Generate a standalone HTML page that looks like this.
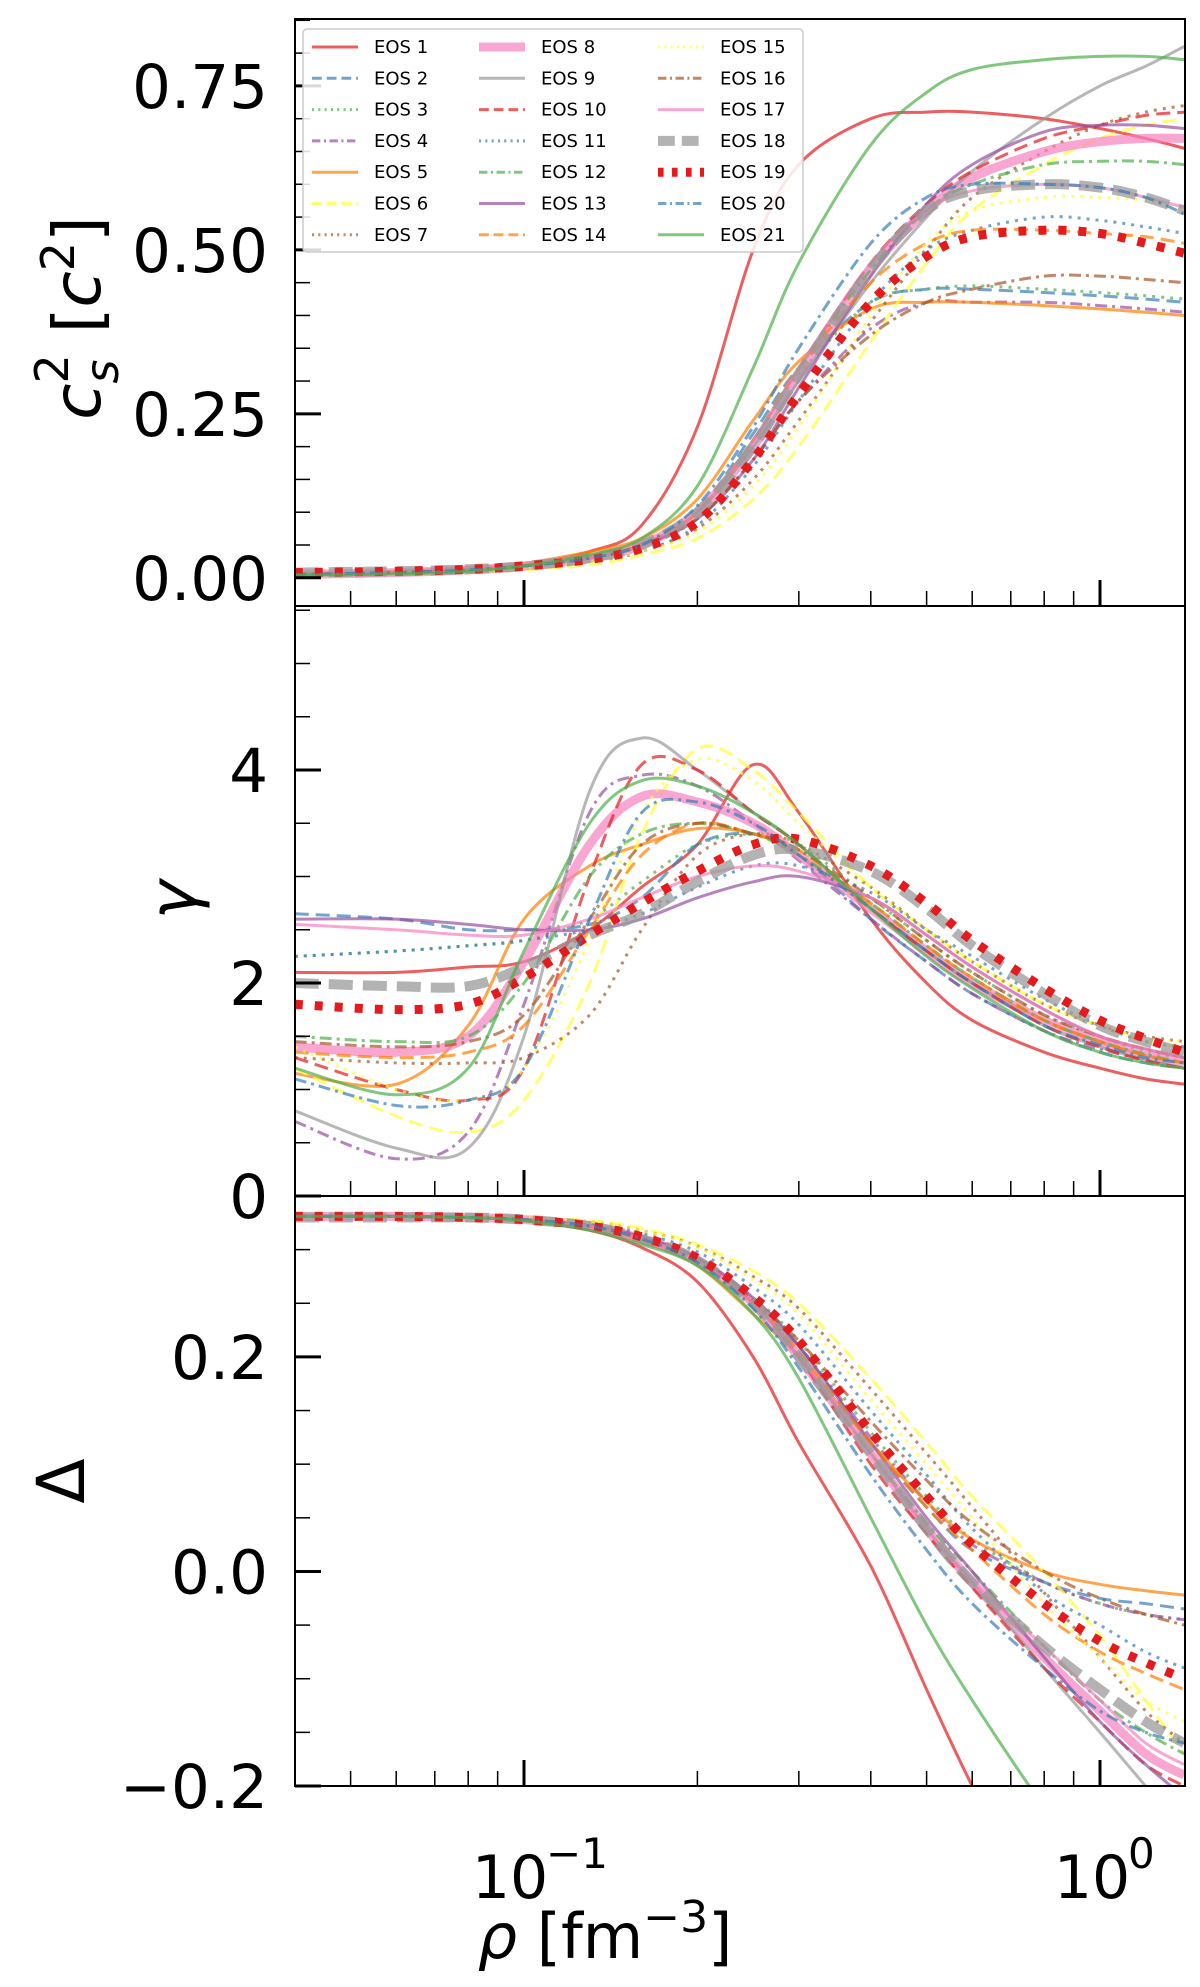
<!DOCTYPE html>
<html><head><meta charset="utf-8"><style>
html,body{margin:0;padding:0;background:#fff;overflow:hidden}
svg{display:block;font-family:"DejaVu Sans","Liberation Sans",sans-serif}
</style></head><body>
<svg id="chart" width="1200" height="1987" viewBox="0 0 1200 1987"></svg>
<script>
const rho=[0.04,0.06,0.08,0.1,0.13,0.16,0.2,0.25,0.3,0.4,0.5,0.6,0.8,1.0,1.2,1.4];
const eosLabels=["EOS 1","EOS 2","EOS 3","EOS 4","EOS 5","EOS 6","EOS 7","EOS 8","EOS 9","EOS 10","EOS 11","EOS 12","EOS 13","EOS 14","EOS 15","EOS 16","EOS 17","EOS 18","EOS 19","EOS 20","EOS 21"];
const cs2=[
[.005,.008,.012,.02,.04,.08,.23,.5,.63,.70,.71,.71,.70,.685,.67,.655],
[.005,.008,.012,.018,.03,.05,.1,.22,.32,.42,.44,.44,.435,.43,.425,.42],
[.005,.008,.012,.018,.03,.05,.1,.21,.31,.42,.44,.445,.44,.435,.43,.425],
[.006,.01,.015,.02,.03,.05,.09,.18,.27,.38,.42,.42,.42,.415,.41,.405],
[.006,.01,.015,.022,.04,.06,.12,.24,.33,.41,.42,.42,.415,.41,.405,.40],
[.004,.006,.008,.012,.02,.035,.06,.12,.2,.36,.48,.56,.63,.67,.69,.70],
[.004,.006,.009,.014,.025,.04,.075,.15,.24,.39,.5,.58,.65,.69,.71,.72],
[.005,.008,.012,.018,.03,.05,.1,.2,.31,.47,.56,.61,.65,.665,.67,.67],
[.005,.008,.012,.018,.03,.05,.1,.2,.3,.45,.55,.62,.7,.75,.78,.81],
[.005,.008,.012,.018,.03,.05,.1,.21,.32,.48,.57,.62,.67,.69,.705,.71],
[.005,.007,.01,.015,.025,.04,.08,.17,.27,.42,.5,.53,.55,.545,.535,.525],
[.005,.008,.012,.018,.03,.05,.1,.21,.32,.47,.56,.6,.63,.635,.635,.63],
[.005,.008,.012,.018,.03,.05,.09,.18,.29,.46,.57,.63,.68,.69,.69,.685],
[.005,.008,.012,.018,.03,.05,.1,.21,.32,.45,.51,.53,.53,.525,.52,.51],
[.004,.006,.009,.014,.025,.04,.07,.14,.23,.4,.51,.56,.58,.58,.575,.56],
[.005,.008,.012,.018,.03,.05,.09,.18,.27,.37,.42,.44,.46,.46,.455,.45],
[.005,.008,.012,.018,.03,.05,.1,.21,.32,.48,.56,.59,.6,.595,.58,.565],
[.008,.01,.013,.018,.03,.05,.1,.2,.31,.47,.56,.59,.6,.595,.58,.56],
[.008,.01,.013,.018,.028,.045,.085,.18,.28,.42,.49,.52,.53,.525,.51,.495],
[.005,.008,.012,.018,.03,.05,.11,.23,.35,.51,.58,.6,.6,.595,.58,.555],
[.004,.006,.01,.018,.035,.06,.14,.32,.48,.66,.74,.775,.79,.795,.795,.79]];
const gamma=[
[2.1,2.1,2.15,2.2,2.5,2.9,3.3,4.05,3.6,2.6,2.0,1.65,1.35,1.2,1.1,1.05],
[2.65,2.6,2.5,2.5,2.55,2.8,3.3,3.4,3.2,2.6,2.2,1.9,1.55,1.35,1.25,1.2],
[2.25,2.3,2.35,2.4,2.6,2.95,3.3,3.4,3.3,2.8,2.4,2.1,1.7,1.5,1.35,1.3],
[0.7,0.35,0.6,1.8,3.6,3.95,3.85,3.5,3.15,2.6,2.2,1.9,1.55,1.38,1.28,1.2],
[1.15,1.05,1.6,2.6,3.1,3.3,3.45,3.4,3.2,2.7,2.3,2.0,1.65,1.45,1.32,1.25],
[1.2,0.75,0.6,0.9,2.0,3.4,4.2,4.0,3.6,2.9,2.5,2.2,1.8,1.6,1.45,1.4],
[1.3,1.25,1.25,1.3,1.7,2.5,3.2,3.4,3.3,2.9,2.5,2.2,1.8,1.6,1.5,1.45],
[1.4,1.35,1.5,2.2,3.3,3.75,3.7,3.5,3.2,2.7,2.3,2.0,1.65,1.45,1.32,1.25],
[0.8,0.45,0.45,1.5,3.8,4.3,4.0,3.6,3.3,2.7,2.3,2.0,1.6,1.4,1.28,1.2],
[1.3,1.0,0.9,1.2,3.0,4.05,4.0,3.6,3.3,2.7,2.3,2.0,1.6,1.4,1.27,1.2],
[2.25,2.3,2.35,2.4,2.5,2.65,2.9,3.1,3.1,2.85,2.5,2.25,1.85,1.6,1.45,1.4],
[1.5,1.45,1.5,2.0,3.0,3.4,3.5,3.4,3.2,2.75,2.35,2.05,1.65,1.45,1.33,1.25],
[2.6,2.6,2.55,2.5,2.5,2.6,2.8,2.95,3.0,2.8,2.45,2.15,1.75,1.5,1.38,1.3],
[1.35,1.3,1.35,1.6,2.5,3.2,3.5,3.4,3.25,2.75,2.35,2.05,1.65,1.45,1.32,1.25],
[1.4,1.0,0.9,1.2,2.4,3.6,4.1,3.9,3.5,2.9,2.5,2.2,1.8,1.6,1.48,1.45],
[1.45,1.4,1.45,1.7,2.6,3.3,3.5,3.4,3.25,2.8,2.4,2.1,1.7,1.5,1.38,1.3],
[2.55,2.5,2.45,2.45,2.6,2.8,3.0,3.1,3.05,2.8,2.45,2.15,1.75,1.5,1.38,1.3],
[2.0,1.97,1.97,2.15,2.45,2.65,2.95,3.2,3.25,3.05,2.7,2.35,1.9,1.6,1.45,1.35],
[1.8,1.75,1.8,2.05,2.45,2.75,3.05,3.3,3.35,3.1,2.75,2.4,1.95,1.65,1.48,1.35],
[1.1,0.85,0.9,1.2,2.6,3.6,3.7,3.5,3.2,2.7,2.3,2.0,1.6,1.42,1.3,1.25],
[1.2,0.95,1.2,2.3,3.5,3.9,3.85,3.6,3.3,2.7,2.25,1.95,1.55,1.35,1.25,1.2]];
const delta=[
[.331,.331,.33,.327,.318,.302,.27,.2,.12,.005,-.11,-.2,-.33,-.42,-.47,-.5],
[.331,.331,.33,.328,.322,.31,.29,.25,.21,.12,.06,.02,-.01,-.025,-.03,-.035],
[.331,.331,.33,.328,.322,.312,.292,.255,.215,.13,.07,.03,-.01,-.03,-.04,-.045],
[.331,.331,.33,.328,.322,.31,.29,.25,.21,.125,.065,.025,-.01,-.03,-.04,-.045],
[.331,.331,.33,.327,.32,.308,.285,.24,.2,.12,.065,.03,0,-.012,-.018,-.022],
[.331,.331,.331,.33,.327,.32,.305,.28,.25,.18,.12,.07,0,-.06,-.12,-.17],
[.331,.331,.331,.33,.326,.318,.303,.275,.245,.17,.11,.06,-.02,-.08,-.13,-.16],
[.331,.331,.33,.328,.322,.31,.29,.25,.2,.11,.04,-.01,-.08,-.13,-.17,-.19],
[.331,.331,.33,.328,.322,.31,.29,.25,.2,.11,.04,-.01,-.09,-.15,-.2,-.24],
[.331,.331,.33,.328,.322,.31,.29,.25,.2,.1,.035,-.015,-.09,-.14,-.18,-.2],
[.331,.331,.331,.329,.324,.315,.298,.265,.23,.15,.09,.04,-.02,-.05,-.075,-.09],
[.331,.331,.33,.328,.322,.31,.29,.25,.2,.11,.045,0,-.07,-.12,-.15,-.17],
[.331,.331,.33,.328,.322,.312,.292,.255,.21,.12,.05,0,-.08,-.14,-.18,-.21],
[.331,.331,.33,.328,.322,.31,.29,.25,.205,.12,.06,.02,-.04,-.075,-.095,-.11],
[.331,.331,.331,.33,.326,.318,.302,.272,.24,.16,.1,.05,-.03,-.08,-.12,-.14],
[.331,.331,.33,.328,.322,.31,.29,.252,.215,.14,.085,.045,0,-.025,-.04,-.05],
[.331,.331,.33,.328,.322,.31,.29,.25,.2,.11,.04,-.01,-.07,-.12,-.16,-.18],
[.33,.33,.33,.328,.322,.31,.29,.25,.2,.11,.04,-.01,-.07,-.11,-.14,-.16],
[.331,.331,.33,.328,.322,.312,.292,.256,.215,.13,.07,.025,-.03,-.065,-.085,-.1],
[.331,.331,.33,.328,.322,.31,.288,.245,.19,.09,.02,-.03,-.09,-.13,-.15,-.16],
[.331,.331,.33,.327,.318,.305,.285,.24,.18,.05,-.05,-.12,-.22,-.29,-.33,-.36]];
const cs2Ticks=["0.00","0.25","0.50","0.75"];
const gammaTicks=["0","2","4"];
const deltaTicks=["\u22120.2","0.0","0.2"];

const NS="http://www.w3.org/2000/svg";
const svg=document.getElementById('chart');
function mk(tag,attrs,parent){const e=document.createElementNS(NS,tag);for(const k in attrs)e.setAttribute(k,attrs[k]);(parent||svg).appendChild(e);return e;}
const X0=295,X1=1185;
const xScale=r=>524+576*Math.log10(r/0.1);
const panels=[
 {name:'sound-speed-panel',top:19,bot:606,ymin:-0.043,ymax:0.852,data:cs2,ticks:cs2Ticks,major:[0,0.25,0.5,0.75],minorStep:0.05},
 {name:'gamma-panel',top:606,bot:1196,ymin:0,ymax:5.54,data:gamma,ticks:gammaTicks,major:[0,2,4],minorStep:0.5},
 {name:'delta-panel',top:1196,bot:1786,ymin:-0.2,ymax:0.35,data:delta,ticks:deltaTicks,major:[-0.2,0,0.2],minorStep:0.05}];
const colors=['#e41a1c','#377eb8','#4daf4a','#984ea3','#ff7f00','#ffff33','#a65628','#f781bf','#999999'];
const styles=[];
const dashes={solid:'',dashed:'14,7',dotted:'3,6',dashdot:'12,5,3,5'};
const pat=['solid','dashed','dotted','dashdot'];
for(let i=0;i<21;i++){
  let s={color:colors[i%9],w:3,dash:dashes[pat[i%4]],op:0.7};
  if(i===7){s.w=9;s.dash='';}
  if(i===17){s.w=10;s.dash='24,10';s.op=0.75;}
  if(i===18){s.w=9;s.dash='8,12';s.op=1;}
  styles.push(s);
}
function pathFor(xs,ys){
  let d='M'+xs[0].toFixed(1)+','+ys[0].toFixed(1);
  for(let i=0;i<xs.length-1;i++){
    const x0=xs[Math.max(i-1,0)],y0=ys[Math.max(i-1,0)],x1=xs[i],y1=ys[i],x2=xs[i+1],y2=ys[i+1],x3=xs[Math.min(i+2,xs.length-1)],y3=ys[Math.min(i+2,xs.length-1)];
    const c1x=x1+(x2-x0)/6,c1y=y1+(y2-y0)/6,c2x=x2-(x3-x1)/6,c2y=y2-(y3-y1)/6;
    d+=' C'+c1x.toFixed(1)+','+c1y.toFixed(1)+' '+c2x.toFixed(1)+','+c2y.toFixed(1)+' '+x2.toFixed(1)+','+y2.toFixed(1);
  }
  return d;
}
const defs=mk('defs',{});
panels.forEach((p,pi)=>{
  const ys=v=>p.bot-(v-p.ymin)/(p.ymax-p.ymin)*(p.bot-p.top);
  const cp=mk('clipPath',{id:'clip'+pi},defs);
  mk('rect',{x:X0,y:p.top,width:X1-X0,height:p.bot-p.top},cp);
  const g=mk('g',{'clip-path':'url(#clip'+pi+')'});
  
  
  for(let i=0;i<21;i++){
    const st=styles[i];
    const xs=rho.map(xScale),yv=p.data[i].map(ys);
    const e=mk('path',{d:pathFor(xs,yv),fill:'none',stroke:st.color,'stroke-width':st.w,'stroke-opacity':st.op,'stroke-dasharray':st.dash},g);
    
    
  }
  const fr=mk('rect',{x:X0,y:p.top,width:X1-X0,height:p.bot-p.top,fill:'none',stroke:'#000','stroke-width':2});
  
  
  for(let v=Math.ceil(p.ymin/p.minorStep)*p.minorStep;v<=p.ymax+1e-9;v+=p.minorStep){
    const isMajor=p.major.some(m=>Math.abs(m-v)<1e-6);
    const y=ys(v);
    mk('line',{x1:X0,x2:X0+(isMajor?26:15),y1:y,y2:y,stroke:'#000','stroke-width':isMajor?3:1.5});
  }
  p.major.forEach((v,k)=>{
    const t=mk('text',{x:268,y:ys(v)+22,'text-anchor':'end','font-size':61,fill:'#000'});
    t.textContent=p.ticks[k];
    
    
  });
  for(let dec=-2;dec<=0;dec++){for(let m=1;m<10;m++){
    const r=m*Math.pow(10,dec);const x=xScale(r);
    if(x<X0||x>X1)continue;
    const maj=(m===1);
    mk('line',{x1:x,x2:x,y1:p.bot,y2:p.bot-(maj?26:15),stroke:'#000','stroke-width':maj?3:1.5});
  }}
});
[["10","\u22121",0.1],["10","0",1]].forEach(a=>{
  const x=xScale(a[2]);
  const t=mk('text',{x:x+(a[1].length>1?-14:-8),y:1898,'text-anchor':'middle','font-size':60,fill:'#000'});
  
  
  t.textContent=a[0];
  const s=mk('text',{x:x+(a[1].length>1?22:28),y:1868,'text-anchor':'start','font-size':42,fill:'#000'});
  s.textContent=a[1];
});
let t=mk('text',{x:605,y:1958,'text-anchor':'middle','font-size':62,fill:'#000'});


t.innerHTML='<tspan font-style="italic">ρ</tspan> [fm<tspan dy="-26" font-size="44">−3</tspan><tspan dy="26">]</tspan>';
t=mk('text',{x:0,y:0,transform:'translate(100,318) rotate(-90)','text-anchor':'middle','font-size':66,fill:'#000'});


t.innerHTML='<tspan font-style="italic">c</tspan><tspan dy="18" font-size="46" font-style="italic">s</tspan><tspan dy="-50" dx="-24" font-size="46">2</tspan><tspan dy="32">  [</tspan><tspan font-style="italic">c</tspan><tspan dy="-26" font-size="46">2</tspan><tspan dy="26">]</tspan>';
t=mk('text',{x:0,y:0,transform:'translate(196,900) rotate(-90)','text-anchor':'middle','font-size':66,'font-style':'italic',fill:'#000'});


t.textContent='γ';
t=mk('text',{x:0,y:0,transform:'translate(84,1481) rotate(-90)','text-anchor':'middle','font-size':66,fill:'#000'});


t.textContent='Δ';
const lg=mk('g',{});


mk('rect',{x:303,y:29,width:500,height:223,rx:4,fill:'#fff','fill-opacity':0.85,stroke:'#ccc','stroke-width':1.5},lg);
const colX=[312,479,658];
eosLabels.forEach((lab,i)=>{
  const c=Math.floor(i/7),r=i%7;
  const x=colX[c],y=47+r*31.3;
  const st=styles[i];
  const e=mk('g',{},lg);
  
  
  const dsh=st.dash?st.dash.split(',').map(v=>v*0.7).join(','):'';
  mk('line',{x1:x,x2:x+46,y1:y,y2:y,stroke:st.color,'stroke-width':st.w,'stroke-opacity':st.op,'stroke-dasharray':dsh},e);
  const tx=mk('text',{x:x+62,y:y+6,'font-size':18,fill:'#000'},e);
  tx.textContent=lab;
});
</script>
</body></html>
